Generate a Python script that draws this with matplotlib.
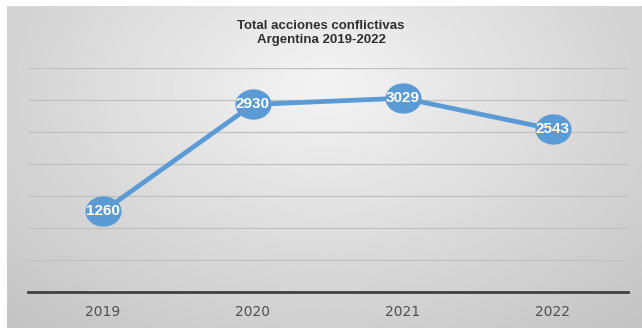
import numpy as np
import matplotlib.pyplot as plt
from matplotlib.path import Path
from matplotlib.transforms import Affine2D

years = ["2019", "2020", "2021", "2022"]
acciones = [1260, 2930, 3029, 2543]

blue = "#5b9bd5"

fig = plt.figure(figsize=(6.42, 3.28), dpi=100)
fig.patch.set_facecolor("white")

# grey radial background of the chart frame
bg = fig.add_axes([7 / 642, 0, 635 / 642, 1 - 6 / 328], zorder=0)
yy, xx = np.mgrid[0:1:200j, 0:1:400j]
r = np.sqrt(((xx - 0.5) / 0.75) ** 2 + ((yy - 0.25) / 1.0) ** 2)
shade = 0.955 - 0.19 * np.clip(r, 0, 1)
bg.imshow(shade, cmap="gray", vmin=0, vmax=1, aspect="auto", extent=[0, 1, 1, 0])
bg.set_axis_off()

ax = fig.add_axes([28 / 642, 1 - 292 / 328, 600 / 642, 224 / 328], zorder=1)
ax.patch.set_alpha(0)
x = np.arange(len(years))

ellipse = Path.unit_circle().transformed(Affine2D().scale(1.2, 1.0))
ax.plot(x, acciones, color=blue, lw=3.4, marker=ellipse, markersize=25,
        markerfacecolor=blue, markeredgecolor=blue, zorder=3)
for xi, v in zip(x, acciones):
    ax.text(xi, v, str(v), color="white", fontsize=11, fontweight="bold",
            family="Liberation Sans", ha="center", va="center", zorder=4)

ax.set_xlim(-0.5, 3.5)
ax.set_ylim(0, 3500)
ax.set_yticks(np.arange(0, 3501, 500))
ax.yaxis.grid(True, color="#c0c0c0", lw=0.9)
ax.set_axisbelow(True)
ax.tick_params(axis="y", left=False, labelleft=False)
ax.set_xticks(x)
ax.set_xticklabels(years, fontsize=10, color="#505050")
ax.tick_params(axis="x", length=0, pad=9)
for s in ["top", "right", "left"]:
    ax.spines[s].set_visible(False)
ax.spines["bottom"].set_color("#404040")
ax.spines["bottom"].set_linewidth(2)

fig.text(0.5, 1 - 33 / 328, "Total acciones conflictivas\nArgentina 2019-2022",
         ha="center", va="center", fontsize=9.5, fontweight="bold",
         family="Liberation Sans", color="#303030", linespacing=1.3)

fig.savefig("out.png", dpi=100)
